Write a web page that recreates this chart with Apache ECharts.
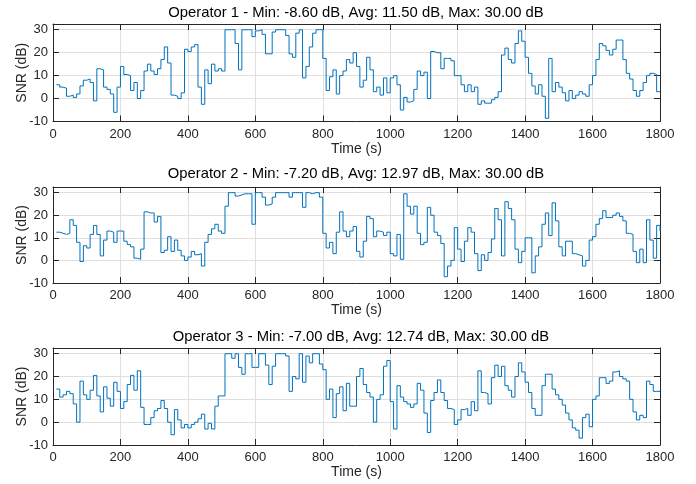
<!DOCTYPE html>
<html><head><meta charset="utf-8">
<script src="https://cdn.jsdelivr.net/npm/echarts@6/dist/echarts.min.js"></script>
<style>html,body{margin:0;padding:0;background:#fff}#c{width:696px;height:484px}</style>
</head><body><div id="c"></div>
<script>
const timeStep = 10; // seconds between samples, first sample at t = 10 s
const titles = [
  'Operator 1 - Min: -8.60 dB, Avg: 11.50 dB, Max: 30.00 dB',
  'Operator 2 - Min: -7.20 dB, Avg: 12.97 dB, Max: 30.00 dB',
  'Operator 3 - Min: -7.00 dB, Avg: 12.74 dB, Max: 30.00 dB'
];
const xLabel = 'Time (s)';
const yLabel = 'SNR (dB)';
const xTickLabels = [0, 200, 400, 600, 800, 1000, 1200, 1400, 1600, 1800];
const yTickLabels = [-10, 0, 10, 20, 30];

const op1 = [
 6,5,4.5,1,1.5,0.5,2,5.5,8,8.5,
 7,-1,13,12.5,5,4,2,-6,5,14,
 10.5,10,3.5,7,0,3.5,12,15,12,10.5,
 13,17,22.5,15.5,1.5,1,0,2.5,21.5,20.5,
 22.5,23.5,5,-2.5,12.5,6.5,15,12,13,12,
 30,30,30,24,12.5,30,30,30,27,29.5,
 30,28,19.5,19.5,29,30,30,30,27.5,19.5,
 18,28.5,30,9,14,22.5,28.5,30,30,17.5,
 3.5,9.5,12.5,2,10,12,17,15.5,20,14,
 5,8,18,12.5,3,5,1.5,9,2.5,9,
 10,6,-5,0.5,-1.5,-1,4,12,10,11.5,
 0,20.5,20,20,13,17.5,17.5,16.5,10,10,
 6,3,6,3,5,-2.5,-1,-2,-2,-0.5,
 0.5,3,19,22,17,15.5,24,29.5,25,18,
 11,5.5,2,6,1,-8.6,17.5,3,7,5,
 2.5,-1,3.5,0,1.5,3,2,1,6,10,
 17,24,23,21,19,21.5,25.5,25.5,17,11,
 8.5,3.5,1,3.5,7,10,11,10.5,3,3
];
const op2 = [
 12.5,12,11.5,12,18,15.5,8,-0.5,6.5,5.5,
 11.5,15.5,11.5,2,9,13,12.5,8,13,13,
 8.5,7,6,1,0.5,5,21.5,21,21,17,
 19.5,3.5,4.5,10.5,4,9,4.5,2,0,1.5,
 4,2.5,3,-2.5,8,11.5,14,16,13,12,
 24,30,30,28.5,29,29.5,29.5,29.5,16,30,
 30,28,24.5,25,28,30,30,30,30,28,
 30,30,30,23.5,30,29.5,30,30,28,12,
 5.5,8,3,12.5,21.5,13,10.5,13,15,4,
 1.5,8.5,19.5,18.5,10.5,13,12.5,11,12.5,3,
 2,11.5,0.5,29.5,24,20.5,24,12,7,8,
 23.5,20,12.5,11,7.5,-7.2,-2.5,0,14.5,5,
 -0.5,8.5,14.5,12.5,3,-4.5,2.5,0,3.5,9.5,
 23,18,2,26,23,18,5,-1,4,10,
 10,-5.5,2,6,16,21,11,25.5,17.5,6,
 2,8.5,8.5,3,2.5,2,-2.5,0,9,10.5,
 16,18.5,22,19,19,20,21,19.5,17.5,12,
 11.5,4,-1,5,-1,18,9,1,15.5,13
];
const op3 = [
 14.5,11,12,13.5,12.5,8,0,18,12,10,
 14,20.5,11.5,4.5,15.5,10.5,7,17.5,13.5,6,
 9,16.5,20.5,14,22.5,6.5,-1,-1,2,5,
 6,9.5,6,0,-5.5,5.5,1,-2.5,-1,-2.5,
 -1,0,1.5,3.5,-3,-0.5,-3,7,11.5,11.5,
 30,30,28,30,24,21,30,30,24,24,
 30,30,25,16.5,24.5,30,30,30,29,13.5,
 20,19,30,17.5,29,26,30,30,25.5,23,
 10,14.5,2,12.5,15.5,5,17,7,7,20,
 23.5,16.5,13,11,0,10,12,24.5,27,9,
 -3,16,11,9,8,6.5,8,17,14,4,
 -4.5,9.5,13,18.5,13,9.5,6,5.5,-1,1,
 5.5,6,3,9,5,22.5,13,12.5,8,19.5,
 25,20,24.5,16,14,11,20,26,22,17.5,
 13,6,3,3,16,21,21,14.5,12,10,
 7.5,4,1,-2.5,-3.5,-7,2,3.5,-2,10,
 11.5,19.5,19.5,17,18,22,22.5,20,19,18,
 10,4.5,1,3,2,18,16.5,13.5,13.5,13.5
];
const seriesValues = [op1, op2, op3];

const FONT = "'Liberation Sans', Arial, Helvetica, sans-serif";
const AX = '#262626';
const gridTops = [24, 187, 348];
const gridHeights = [97.5, 96, 97];
const titleTops = [5, 166, 329];
const yMax = 32.5;

function pairs(vals) {
  return vals.map((v, i) => [timeStep * (i + 1), v]);
}

const grids = [], xAxes = [], yAxes = [], series = [], titleArr = [];
for (let g = 0; g < 3; g++) {
  grids.push({ left: 53, right: 36, top: gridTops[g], height: gridHeights[g], containLabel: false });
  titleArr.push({
    text: titles[g], left: 356, textAlign: 'center', top: titleTops[g],
    padding: g === 2 ? [0, 5, 3, 5] : 0,
    backgroundColor: g === 2 ? '#ffffff' : 'transparent',
    textStyle: { fontFamily: FONT, fontSize: 14.8, fontWeight: 'normal', color: '#000', lineHeight: 16 }
  });
  ['bottom', 'top'].forEach(pos => {
    xAxes.push({
      gridIndex: g, type: 'value', position: pos, min: xTickLabels[0], max: xTickLabels[xTickLabels.length - 1],
      interval: xTickLabels[1] - xTickLabels[0],
      axisLine: { show: true, onZero: false, lineStyle: { color: AX, width: 1 } },
      axisTick: { show: true, inside: true, length: 6, lineStyle: { color: AX } },
      axisLabel: { show: pos === 'bottom', color: AX, fontSize: 13, fontFamily: FONT, margin: 6,
        formatter: v => String(v) },
      splitLine: { show: pos === 'bottom', lineStyle: { color: '#dfdfdf', width: 1 } },
      name: pos === 'bottom' ? xLabel : '', nameLocation: 'middle', nameGap: 20.5, nameMoveOverlap: false,
      nameTextStyle: { fontFamily: FONT, fontSize: 14, color: AX }
    });
  });
  ['left', 'right'].forEach(pos => {
    yAxes.push({
      gridIndex: g, type: 'value', position: pos, min: yTickLabels[0], max: yMax,
      interval: yTickLabels[1] - yTickLabels[0],
      axisLine: { show: true, onZero: false, lineStyle: { color: AX, width: 1 } },
      axisTick: { show: true, inside: true, length: 6, lineStyle: { color: AX } },
      axisLabel: { show: pos === 'left', color: AX, fontSize: 13, fontFamily: FONT, margin: 5,
        formatter: v => (yTickLabels.indexOf(v) >= 0 ? String(v) : '') },
      splitLine: { show: pos === 'left', lineStyle: { color: '#dfdfdf', width: 1 } },
      name: pos === 'left' ? yLabel : '', nameLocation: 'middle', nameGap: 24, nameMoveOverlap: false,
      nameTextStyle: { fontFamily: FONT, fontSize: 14, color: AX }
    });
  });
  series.push({
    type: 'line', xAxisIndex: g * 2, yAxisIndex: g * 2, data: pairs(seriesValues[g]),
    step: 'end', showSymbol: false, symbol: 'none',
    lineStyle: { color: '#0072BD', width: 1 }, itemStyle: { color: '#0072BD' }, z: 3
  });
}

const chart = echarts.init(document.getElementById('c'), null, { renderer: 'canvas' });
chart.setOption({
  backgroundColor: '#ffffff', animation: false,
  title: titleArr, grid: grids, xAxis: xAxes, yAxis: yAxes, series: series
});
</script>
</body></html>
